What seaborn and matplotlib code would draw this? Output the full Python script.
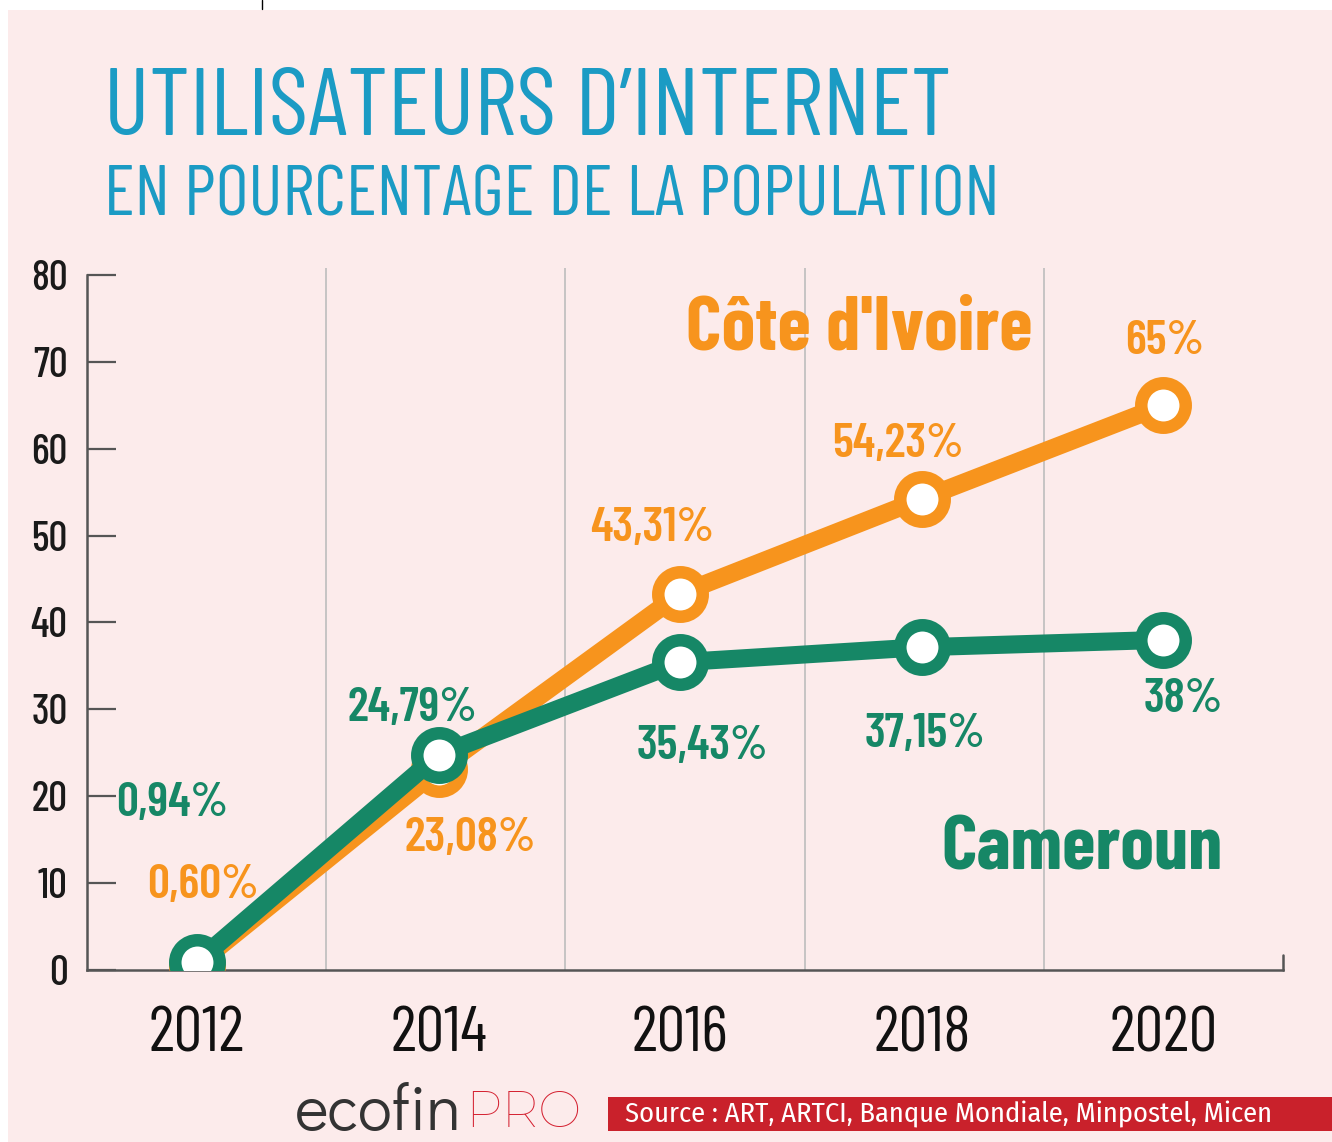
import matplotlib
matplotlib.use("Agg")
import matplotlib.pyplot as plt
from matplotlib.patches import Rectangle
from matplotlib.lines import Line2D
import pandas as pd
import seaborn as sns

years = [2012, 2014, 2016, 2018, 2020]
civ_values = [0.60, 23.08, 43.31, 54.23, 65.0]
cmr_values = [0.94, 24.79, 35.43, 37.15, 38.0]
civ_labels = ["0,60%", "23,08%", "43,31%", "54,23%", "65%"]
cmr_labels = ["0,94%", "24,79%", "35,43%", "37,15%", "38%"]
y_ticks = [0, 10, 20, 30, 40, 50, 60, 70, 80]

df = pd.DataFrame({
    "annee": years * 2,
    "pct": civ_values + cmr_values,
    "pays": ["Côte d'Ivoire"] * 5 + ["Cameroun"] * 5,
})

# label offsets (points) relative to each marker
civ_offsets = [(4, 57), (23, -50), (-20, 47), (-17, 39), (1, 46)]
cmr_offsets = [(-18, 114), (-19, 33), (16, -61), (2, -63), (14, -43)]

sns.set_theme(style="white")
plt.rcParams["font.family"] = ["Barlow Condensed", "DejaVu Sans"]

ORANGE = "#F7941D"
GREEN = "#168766"
BLUE = "#1B9BC4"
PINK = "#FCEBEB"
RED = "#C9212B"
AXIS = "#555555"

W, H = 1332, 1142
fig = plt.figure(figsize=(W / 100, H / 100), dpi=100)
fig.patch.set_facecolor("white")
fig.patches.append(Rectangle((8 / W, 0), 1, 1 - 10 / H, transform=fig.transFigure,
                             facecolor=PINK, edgecolor="none", zorder=-1))
fig.add_artist(Line2D([262 / W, 262 / W], [1, 1 - 9 / H], color="black", lw=1))

ax = fig.add_axes([87 / W, 172 / H, 1196 / W, 702 / H])
ax.set_facecolor("none")

x0, x1 = 2011.09, 2020.99
ax.set_xlim(x0, x1)
ax.set_ylim(0, 80.8)

# column separators
for k in range(1, 5):
    ax.axvline(x0 + k * (x1 - x0) / 5, color="#bdbdbd", lw=1.2, zorder=1)

civ = df[df["pays"] == "Côte d'Ivoire"]
cmr = df[df["pays"] == "Cameroun"]
sns.lineplot(data=civ, x="annee", y="pct", color=ORANGE, lw=13, marker="o", ms=32,
             mfc="white", mec=ORANGE, mew=9, ax=ax, zorder=3, legend=False)
sns.lineplot(data=cmr, x="annee", y="pct", color=GREEN, lw=13, marker="o", ms=32,
             mfc="white", mec=GREEN, mew=9, ax=ax, zorder=4, legend=False)

for yr, v, lab, off in zip(years, civ_values, civ_labels, civ_offsets):
    ax.annotate(lab, (yr, v), xytext=off, textcoords="offset points", ha="center",
                va="center", color=ORANGE, fontsize=35, fontweight=600, zorder=6)
for yr, v, lab, off in zip(years, cmr_values, cmr_labels, cmr_offsets):
    ax.annotate(lab, (yr, v), xytext=off, textcoords="offset points", ha="center",
                va="center", color=GREEN, fontsize=35, fontweight=600, zorder=6)

ax.text(0.646, 0.912, "Côte d'Ivoire", transform=ax.transAxes, ha="center", va="center",
        color=ORANGE, fontsize=55, fontweight=700)
ax.text(0.832, 0.171, "Cameroun", transform=ax.transAxes, ha="center", va="center",
        color=GREEN, fontsize=55, fontweight=700)

# axes styling
for s in ["top", "right"]:
    ax.spines[s].set_visible(False)
for s in ["left", "bottom"]:
    ax.spines[s].set_color(AXIS)
    ax.spines[s].set_linewidth(1.8)
ax.spines["left"].set_bounds(0, 80)
ax.set_yticks(y_ticks)
ax.set_xticks(years)
ax.tick_params(axis="y", left=True, direction="in", length=21, width=1.6, color=AXIS,
               pad=14, labelsize=30, labelcolor="#1a1a1a")
ax.tick_params(axis="x", bottom=False, length=0, pad=26, labelsize=46, labelcolor="#111111")
for lab in ax.get_yticklabels():
    lab.set_fontweight(500)
ax.axvline(x1, ymin=0, ymax=0.022, color=AXIS, lw=1.8, clip_on=False)
ax.set_xlabel("")
ax.set_ylabel("")

# titles
fig.text(104 / W, 1 - 135 / H, "UTILISATEURS D’INTERNET", color=BLUE, fontsize=68.8,
         fontweight=400, va="baseline", ha="left")
fig.text(104 / W, 1 - 215 / H, "EN POURCENTAGE DE LA POPULATION", color=BLUE,
         fontsize=51.5, fontweight=400, va="baseline", ha="left")

# footer
fig.patches.append(Rectangle((608 / W, 1 - 1131 / H), 724 / W, 34 / H,
                             transform=fig.transFigure, facecolor=RED,
                             edgecolor="none", zorder=1))
fig.text(625 / W, 1 - 1114 / H, "Source : ART, ARTCI, Banque Mondiale, Minpostel, Micen",
         color="white", fontsize=20.5, family=["Fira Sans Condensed", "DejaVu Sans"],
         fontweight=400, va="center", ha="left", zorder=2)
fig.text(295 / W, 1 - 1113 / H, "ecofin", color="#333333", fontsize=46,
         family=["Didact Gothic", "Lato"], va="center", ha="left")
fig.text(465 / W, 1 - 1113 / H, "PRO", color="#D42030", fontsize=37,
         family=["Montserrat", "Didact Gothic"], fontweight=400, va="center", ha="left")

fig.savefig("out.png", dpi=100, facecolor=fig.get_facecolor())
